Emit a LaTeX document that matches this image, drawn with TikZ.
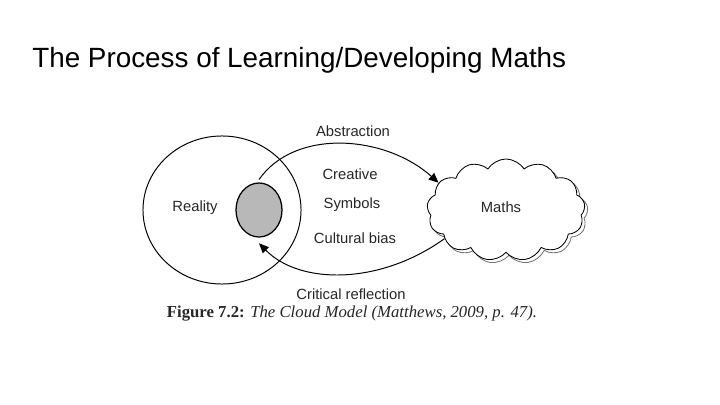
\documentclass[tikz,border=0pt]{standalone}
\usepackage{fontspec}
\setmainfont{Liberation Serif}
\newfontfamily\labelfont{Liberation Sans}
\usetikzlibrary{shapes.symbols, shapes.geometric, arrows.meta}
\definecolor{ink}{HTML}{262626}
\begin{document}
\begin{tikzpicture}[x=0.025cm, y=-0.025cm,
    lbl/.style={font=\labelfont\fontsize{10.5}{12}\selectfont, text=ink, anchor=base, inner sep=0pt},
    puff/.style={cloud, cloud puffs=13, cloud puff arc=115, aspect=1.6, minimum width=3.95cm, minimum height=2.55cm, fill=white, line width=0.6pt},
    flow/.style={line width=0.7pt, -{Triangle[length=7pt, width=6pt]}}]
\useasboundingbox (0,0) rectangle (720,405);

\node[anchor=base west, inner sep=0pt, font=\labelfont\fontsize{19.8}{24}\selectfont] (title) at (32,68) {The Process of Learning/Developing Maths};

\node[draw, ellipse, line width=0.7pt, minimum width=3.95cm, minimum height=3.7cm, inner sep=0pt] (reality) at (222,210) {};
\node[draw, ellipse, line width=0.9pt, fill=black!28, minimum width=1.15cm, minimum height=1.35cm, inner sep=0pt] (core) at (259,210) {};

\node[puff, draw=black!55] (shade) at (509,213) {};
\node[puff, draw=black] (maths) at (506,210) {};

\node[lbl] (realitytext) at (195,212) {Reality};
\node[lbl] (mathstext) at (501,213) {Maths};
\node[lbl] (abstraction) at (353,137) {Abstraction};
\node[lbl] (creative) at (350,180) {Creative};
\node[lbl] (symbols) at (352,209) {Symbols};
\node[lbl] (bias) at (355,244) {Cultural bias};
\node[lbl] (critical) at (351,299) {Critical reflection};

\node[anchor=base, inner sep=0pt, font=\fontsize{11.9}{14}\selectfont, text=black!85] (caption) at (352,317) {\textbf{Figure 7.2:} \textit{The Cloud Model (Matthews, 2009, p. 47).}};

\draw[flow] ([yshift=2pt]core.north) .. controls (295,128) and (385,135) .. (maths.158);
\draw[flow] (maths.205) .. controls (380,285) and (300,285) .. ([yshift=-4pt]core.south);
\end{tikzpicture}
\end{document}
